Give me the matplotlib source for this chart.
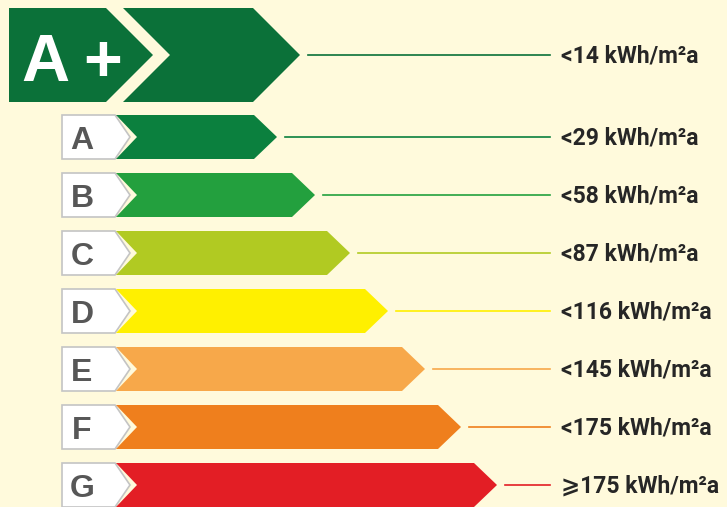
import matplotlib
matplotlib.use("Agg")
import matplotlib.pyplot as plt
from matplotlib.patches import Polygon

# ---------- data ----------
classes = ["A+", "A", "B", "C", "D", "E", "F", "G"]
limits = ["<14", "<29", "<58", "<87", "<116", "<145", "<175", "\u2a7e175"]
bar_tips = [300, 277, 315, 350, 388, 425, 461, 497]  # arrow tip x (px)
colors = ["#0b7139", "#0b803e", "#23a03e", "#b1ca22", "#fff000",
          "#f7a84a", "#ef7f1d", "#e31e25"]

BG = "#fffadc"
W, H = 727, 507

fig = plt.figure(figsize=(W / 100, H / 100), dpi=100, facecolor=BG)
ax = fig.add_axes([0, 0, 1, 1])
ax.set_xlim(0, W)
ax.set_ylim(H, 0)
ax.axis("off")
ax.set_facecolor(BG)

label_font = ["Roboto", "DejaVu Sans"]
letter_font = ["Liberation Sans", "DejaVu Sans"]
line_end = 550
text_x = 561


def limit_label(y, lim):
    ax.text(text_x, y + 8, f"{lim} kWh/m\u00b2a", fontsize=16.5, fontweight="bold",
            family=label_font, color="#262626", ha="left", va="baseline")


# ---------- A+ row ----------
top, bot, yc = 8, 102, 55
half = (bot - top) / 2
ax.add_patch(Polygon([(9, top), (106, top), (106 + half, yc), (106, bot), (9, bot)],
                     closed=True, fc=colors[0], ec="none"))
tip = bar_tips[0]
ax.add_patch(Polygon([(123, top), (tip - half, top), (tip, yc), (tip - half, bot),
                      (123, bot), (123 + half, yc)], closed=True, fc=colors[0], ec="none"))
ax.text(45.5, 81, "A", color="white", fontsize=48, fontweight="bold",
        family=letter_font, ha="center", va="baseline")
ax.text(103, 81, "+", color="white", fontsize=48, fontweight="bold",
        family=letter_font, ha="center", va="baseline")
ax.plot([tip + 8, line_end], [yc, yc], color=colors[0], lw=1.2)
limit_label(yc, limits[0])

# ---------- A..G rows ----------
row_h = 44
for i in range(1, len(classes)):
    yc = 137 + (i - 1) * 58
    top, bot = yc - row_h / 2, yc + row_h / 2
    # white letter box
    ax.add_patch(Polygon([(62, top), (115, top), (130, yc), (115, bot), (62, bot)],
                         closed=True, fc="white", ec="#c4c4c4", lw=1.2))
    ax.text(82, yc + 12, classes[i], color="#575757", fontsize=23, fontweight="bold",
            family=letter_font, ha="center", va="baseline")
    # colored arrow
    tip = bar_tips[i]
    ax.add_patch(Polygon([(116, top), (tip - 23, top), (tip, yc), (tip - 23, bot),
                          (116, bot), (137, yc)], closed=True, fc=colors[i], ec="none"))
    ax.plot([tip + 8, line_end], [yc, yc], color=colors[i], lw=1.2)
    limit_label(yc, limits[i])

fig.savefig("out.png", dpi=100, facecolor=BG)
